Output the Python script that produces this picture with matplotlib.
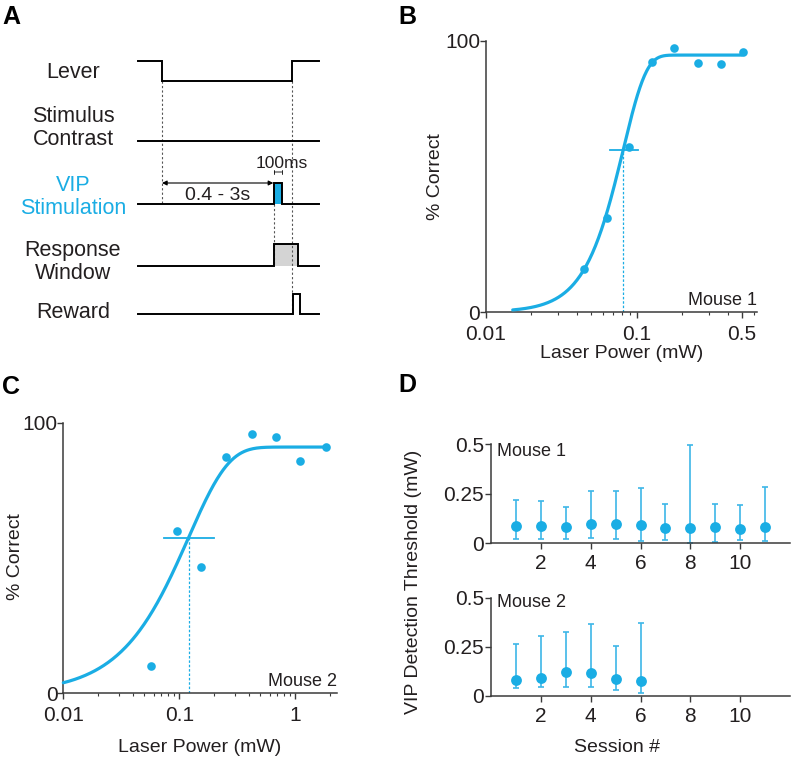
import numpy as np
import matplotlib
matplotlib.use("Agg")
import matplotlib.pyplot as plt
from matplotlib.patches import Rectangle

plt.rcParams['font.family'] = ['Liberation Sans', 'DejaVu Sans']

BLUE = '#1AADE4'
TXT = '#231F20'
SPINE = '#3a3a3a'

W, H = 792, 761

# ---------------- data ----------------
# Panel B (Mouse 1) psychometric data
b_power = [0.0448, 0.0633, 0.0893, 0.126, 0.178, 0.256, 0.360, 0.508]
b_correct = [15.7, 34.5, 60.9, 92.3, 97.2, 91.9, 91.4, 95.9]
b_fit = dict(top=94.7, alpha=0.0815, beta=2.86, xmin=0.0151, xmax=0.496)
b_thresh_ci = [0.0666, 0.1016]

# Panel C (Mouse 2) psychometric data
c_power = [0.0571, 0.0951, 0.154, 0.254, 0.423, 0.676, 1.10, 1.84]
c_correct = [10.1, 60.1, 46.6, 87.4, 95.8, 94.6, 85.8, 91.0]
c_fit = dict(top=91.0, alpha=0.120, beta=1.26, xmin=0.01, xmax=1.84)
c_thresh_ci = [0.0744, 0.197]

# Panel D thresholds per session
d1_session = [1, 2, 3, 4, 5, 6, 7, 8, 9, 10, 11]
d1_thresh = [0.089, 0.089, 0.084, 0.096, 0.097, 0.092, 0.077, 0.079, 0.081, 0.074, 0.084]
d1_upper = [0.218, 0.211, 0.181, 0.263, 0.265, 0.279, 0.198, 0.497, 0.196, 0.193, 0.284]
d1_lower = [0.020, 0.022, 0.020, 0.025, 0.020, 0.013, 0.017, 0.000, 0.007, 0.017, 0.013]

d2_session = [1, 2, 3, 4, 5, 6]
d2_thresh = [0.080, 0.087, 0.118, 0.116, 0.082, 0.075]
d2_upper = [0.264, 0.305, 0.324, 0.366, 0.255, 0.373]
d2_lower = [0.038, 0.043, 0.046, 0.046, 0.029, 0.015]

# Panel A schematic (time in arbitrary units along the trace, levels 0/1)
row_names = ['Lever', 'Stimulus\nContrast', 'VIP\nStimulation', 'Response\nWindow', 'Reward']
row_colors = [TXT, TXT, BLUE, TXT, TXT]
t_start, t_end = 138, 319
t_press, t_release = 162, 292
t_stim_on, t_stim_off = 274.3, 281.7
t_resp_off = 298.3
t_rew_on, t_rew_off = 293.3, 300.0


def weibull(x, top, alpha, beta):
    return top * (1 - np.exp(-(x / alpha) ** beta))


fig = plt.figure(figsize=(W / 100, H / 100), dpi=100)


def box(l, t, r, b):
    return [l / W, 1 - b / H, (r - l) / W, (b - t) / H]


def ftext(x, y, s, **kw):
    fig.text(x / W, 1 - y / H, s, **kw)


# ---------------- Panel A ----------------
axA = fig.add_axes([0, 1 - 340 / H, 340 / W, 340 / H])
axA.set_xlim(0, 340)
axA.set_ylim(340, 0)
axA.axis('off')

row_base = [81, 140.7, 203.7, 265.7, 314]
row_high = [61, 140.7, 183.3, 243.7, 294.3]
label_y = [72, 128, 197, 262, 313]
lw = 1.4

lev_t = [t_start, t_press, t_press, t_release, t_release, t_end]
lev_v = [1, 1, 0, 0, 1, 1]
stim_t = [t_start, t_end]
stim_v = [0, 0]
vip_t = [t_start, t_stim_on, t_stim_on, t_stim_off, t_stim_off, t_end]
vip_v = [0, 0, 1, 1, 0, 0]
resp_t = [t_start, t_stim_on, t_stim_on, t_resp_off, t_resp_off, t_end]
resp_v = [0, 0, 1, 1, 0, 0]
rew_t = [t_start, t_rew_on, t_rew_on, t_rew_off, t_rew_off, t_end]
rew_v = [0, 0, 1, 1, 0, 0]

traces = [(lev_t, lev_v), (stim_t, stim_v), (vip_t, vip_v), (resp_t, resp_v), (rew_t, rew_v)]

axA.add_patch(Rectangle((t_stim_on, row_high[2]), t_stim_off - t_stim_on,
                        row_base[2] - row_high[2], facecolor=BLUE, edgecolor='none', zorder=1))
axA.add_patch(Rectangle((t_stim_on, row_high[3]), t_resp_off - t_stim_on,
                        row_base[3] - row_high[3], facecolor='#d4d4d4', edgecolor='none', zorder=1))

axA.plot([t_press, t_press], [row_base[0], row_base[2]], ls=(0, (2, 2)), color='#555555', lw=0.8, zorder=2)
axA.plot([t_release, t_release], [row_base[0], row_base[4]], ls=(0, (2, 2)), color='#555555', lw=0.8, zorder=2)
axA.plot([t_stim_on, t_stim_on], [row_base[2], row_base[3]], ls=(0, (2, 2)), color='#555555', lw=0.8, zorder=2)

for i, (tt, vv) in enumerate(traces):
    yy = [row_base[i] + v * (row_high[i] - row_base[i]) for v in vv]
    axA.plot(tt, yy, color='black', lw=lw, solid_joinstyle='miter', zorder=3)
    axA.text(73, label_y[i], row_names[i], ha='center', va='center', fontsize=15.5,
             color=row_colors[i], linespacing=1.15)

axA.annotate('', xy=(t_press, 183), xytext=(t_stim_on - 1, 183),
             arrowprops=dict(arrowstyle='<|-|>', color='black', lw=0.8,
                             mutation_scale=7, shrinkA=0, shrinkB=0))
axA.text(218, 195, '0.4 - 3s', ha='center', va='center', fontsize=14, color=TXT)
axA.text(282, 163, '100ms', ha='center', va='center', fontsize=12.5, color=TXT)
axA.annotate('', xy=(t_stim_on, 172), xytext=(t_stim_off, 172),
             arrowprops=dict(arrowstyle='|-|', color='black', lw=0.6,
                             mutation_scale=1.5, shrinkA=0, shrinkB=0))


# ---------------- psychometric panels ----------------
def psych(ax, power, correct, fit, ci, xlim, xticks, xticklabels, mouse):
    xs = np.logspace(np.log10(fit['xmin']), np.log10(fit['xmax']), 300)
    ax.plot(xs, weibull(xs, fit['top'], fit['alpha'], fit['beta']), color=BLUE, lw=2.3,
            solid_capstyle='round', zorder=3, clip_on=False)
    ax.plot(power, correct, 'o', color=BLUE, ms=6.2, mec='none', zorder=4, clip_on=False)
    ty = weibull(fit['alpha'], fit['top'], fit['alpha'], fit['beta'])
    ax.plot(ci, [ty, ty], color=BLUE, lw=1.3, zorder=3)
    ax.plot([fit['alpha'], fit['alpha']], [0, ty], color=BLUE, lw=0.9, ls=(0, (2, 1.5)), zorder=2)
    ax.set_xscale('log')
    ax.set_xlim(*xlim)
    ax.set_ylim(0, 100)
    ax.set_yticks([0, 100])
    ax.set_yticklabels(['0', '100'])
    ax.set_xticks(xticks)
    ax.set_xticklabels(xticklabels)
    ax.xaxis.set_minor_locator(matplotlib.ticker.LogLocator(base=10, subs=np.arange(2, 10)))
    ax.xaxis.set_minor_formatter(matplotlib.ticker.NullFormatter())
    for s in ['top', 'right']:
        ax.spines[s].set_visible(False)
    for s in ['left', 'bottom']:
        ax.spines[s].set_color(SPINE)
        ax.spines[s].set_linewidth(1.1)
    ax.tick_params(which='major', direction='out', length=4, width=1.0, color=SPINE,
                   labelsize=15, labelcolor=TXT)
    ax.tick_params(which='minor', direction='out', length=2.5, width=0.8, color=SPINE)
    ax.tick_params(axis='y', pad=0)
    ax.tick_params(axis='x', pad=5)
    ax.text(1.0, 0.012, mouse, transform=ax.transAxes, ha='right', va='bottom',
            fontsize=13, color=TXT)


axB = fig.add_axes(box(485.7, 40.7, 757, 312))
psych(axB, b_power, b_correct, b_fit, b_thresh_ci, (0.01, 0.627),
      [0.01, 0.1, 0.5], ['0.01', '0.1', '0.5'], 'Mouse 1')
ftext(435.5, 177, '% Correct', rotation=90, ha='center', va='center', fontsize=14, color=TXT)
ftext(621.7, 354, 'Laser Power (mW)', ha='center', va='center', fontsize=14, color=TXT)

axC = fig.add_axes(box(63.3, 422.7, 336.7, 693.3))
psych(axC, c_power, c_correct, c_fit, c_thresh_ci, (0.01, 2.27),
      [0.01, 0.1, 1], ['0.01', '0.1', '1'], 'Mouse 2')
ftext(15, 557, '% Correct', rotation=90, ha='center', va='center', fontsize=14, color=TXT)
ftext(200, 747, 'Laser Power (mW)', ha='center', va='center', fontsize=14, color=TXT)


# ---------------- Panel D ----------------
def thresh(ax, sess, val, lo, hi, mouse, ty):
    val = np.array(val)
    yerr = [val - np.array(lo), np.array(hi) - val]
    ax.errorbar(sess, val, yerr=yerr, fmt='none', ecolor='#3DB6E8', elinewidth=1.2,
                capsize=2.5, capthick=1.2, zorder=2, clip_on=False)
    ax.plot(sess, val, 'o', color=BLUE, ms=7.8, mec='none', zorder=3, clip_on=False)
    ax.set_xlim(0, 12)
    ax.set_ylim(0, 0.5)
    ax.set_yticks([0, 0.25, 0.5])
    ax.set_yticklabels(['0', '0.25', '0.5'])
    ax.set_xticks([2, 4, 6, 8, 10])
    for s in ['top', 'right']:
        ax.spines[s].set_visible(False)
    for s in ['left', 'bottom']:
        ax.spines[s].set_color(SPINE)
        ax.spines[s].set_linewidth(1.1)
    ax.tick_params(direction='out', length=4, width=1.0, color=SPINE,
                   labelsize=15, labelcolor=TXT, pad=1)
    ax.tick_params(axis='x', pad=4)
    ax.text(0.02, ty, mouse, transform=ax.transAxes, ha='left', va='center',
            fontsize=13, color=TXT)


axD1 = fig.add_axes(box(491, 444, 790, 543.3))
thresh(axD1, d1_session, d1_thresh, d1_lower, d1_upper, 'Mouse 1', 0.92)
axD2 = fig.add_axes(box(491, 597.7, 790, 695.5))
thresh(axD2, d2_session, d2_thresh, d2_lower, d2_upper, 'Mouse 2', 0.946)
ftext(413, 582, 'VIP Detection Threshold (mW)', rotation=90, ha='center', va='center',
      fontsize=14, color=TXT)
ftext(617, 747, 'Session #', ha='center', va='center', fontsize=14, color=TXT)

for letter, x, y in [('A', 2, 5), ('B', 398, 5), ('C', 2, 375), ('D', 398, 373)]:
    ftext(x, y, letter, ha='left', va='top', fontsize=18, fontweight='bold', color='black')

fig.savefig('out.png', dpi=100)
